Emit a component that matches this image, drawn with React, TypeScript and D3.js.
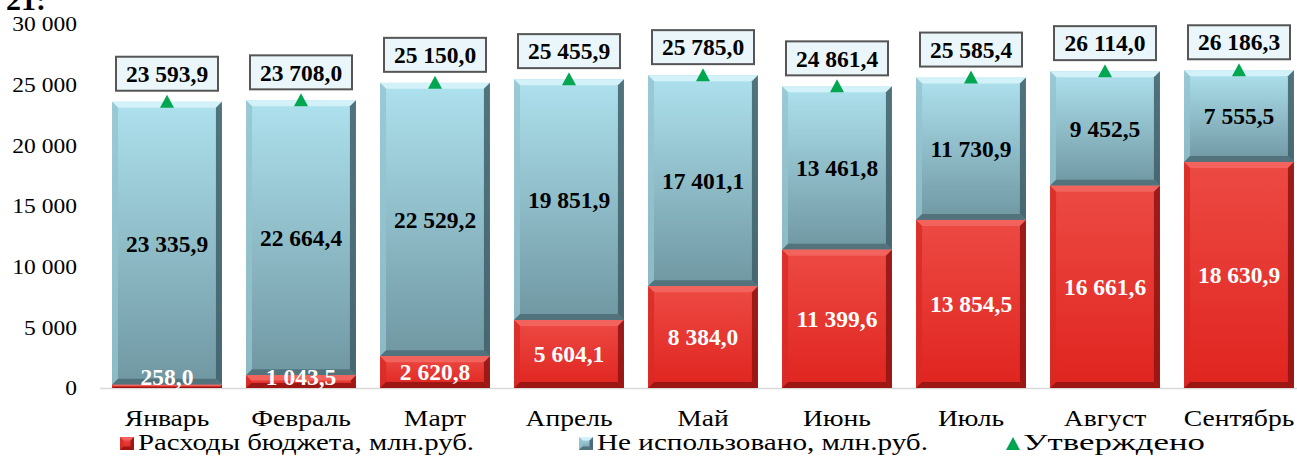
import React from "react";
import * as d3 from "d3";

const months = ["Январь", "Февраль", "Март", "Апрель", "Май", "Июнь", "Июль", "Август", "Сентябрь"];
const spent = [258.0, 1043.5, 2620.8, 5604.1, 8384.0, 11399.6, 13854.5, 16661.6, 18630.9];
const unused = [23335.9, 22664.4, 22529.2, 19851.9, 17401.1, 13461.8, 11730.9, 9452.5, 7555.5];
const approved = [23593.9, 23708.0, 25150.0, 25455.9, 25785.0, 24861.4, 25585.4, 26114.0, 26186.3];
const yTicks = [0, 5000, 10000, 15000, 20000, 25000, 30000];
const legendLabels = ["Расходы бюджета, млн.руб.", "Не использовано, млн.руб.", "Утверждено"];

const W = 1297, H = 463;
const FONT = "Liberation Serif, DejaVu Serif, serif";

const fmt = (v: number) => {
  const s = d3.format(",.1f")(v);
  return s.replace(/,/g, " ").replace(".", ",");
};
const fmtInt = (v: number) => d3.format(",")(v).replace(/,/g, " ");

function Bevel({ x, y, w, h, kind }: { x: number; y: number; w: number; h: number; kind: "red" | "blue" }) {
  if (h <= 0) return null;
  const b = Math.min(6, h / 2.5, w / 4);
  const c = kind === "red"
    ? { fill: "url(#gRed)", top: "#f2635d", left: "#d82a26", right: "#8e1412", bottom: "#951513" }
    : { fill: "url(#gBlue)", top: "#d2f1f8", left: "#93c3ce", right: "#3f5f68", bottom: "#4f6f78" };
  const x2 = x + w, y2 = y + h;
  return (
    <g>
      <rect x={x} y={y} width={w} height={h} fill={c.fill} />
      <polygon points={`${x},${y} ${x2},${y} ${x2 - b},${y + b} ${x + b},${y + b}`} fill={c.top} />
      <polygon points={`${x},${y} ${x + b},${y + b} ${x + b},${y2 - b} ${x},${y2}`} fill={c.left} opacity={0.8} />
      <polygon points={`${x2},${y} ${x2},${y2} ${x2 - b},${y2 - b} ${x2 - b},${y + b}`} fill={c.right} opacity={0.85} />
      <polygon points={`${x},${y2} ${x + b},${y2 - b} ${x2 - b},${y2 - b} ${x2},${y2}`} fill={c.bottom} opacity={0.9} />
    </g>
  );
}

export default function App() {
  const y = d3.scaleLinear().domain([0, 30000]).range([388, 24]);
  const x = d3.scaleBand<string>().domain(months).range([100, 1306]).paddingInner(0.18).paddingOuter(0.09);
  const bw = x.bandwidth();

  return (
    <svg width={W} height={H} style={{ position: "absolute", left: 0, top: 0, fontFamily: FONT }}>
      <defs>
        <linearGradient id="gBlue" x1="0" y1="0" x2="0" y2="1">
          <stop offset="0%" stopColor="#aee2ee" />
          <stop offset="100%" stopColor="#6f97a2" />
        </linearGradient>
        <linearGradient id="gRed" x1="0" y1="0" x2="0" y2="1">
          <stop offset="0%" stopColor="#ed4a44" />
          <stop offset="100%" stopColor="#e0241f" />
        </linearGradient>
      </defs>
      <rect width={W} height={H} fill="#ffffff" />
      <text x={6} y={10} fontSize={30} fontWeight="bold" fill="#000">21:</text>

      {yTicks.map((t) => (
        <g key={t} transform={`translate(77,${y(t)}) scale(1.12,1)`}>
          <text x={0} y={0} dy="0.35em" textAnchor="end" fontSize={21} fill="#000">
            {fmtInt(t)}
          </text>
        </g>
      ))}
      <line x1={100} x2={1297} y1={y(0) + 0.5} y2={y(0) + 0.5} stroke="#d9d9d9" strokeWidth={1.5} />

      {months.map((m, i) => {
        const x0 = x(m)!;
        const cx = x0 + bw / 2;
        const ySpentTop = y(spent[i]);
        const yUnusedTop = y(spent[i] + unused[i]);
        const yA = y(approved[i]);
        const redMid = Math.min((ySpentTop + y(0)) / 2, 377);
        const blueMid = (yUnusedTop + ySpentTop) / 2;
        const boxW = 102, boxH = 34;
        const boxBottom = yA - 11;
        return (
          <g key={m}>
            <Bevel x={x0} y={yUnusedTop} w={bw} h={ySpentTop - yUnusedTop} kind="blue" />
            <Bevel x={x0} y={ySpentTop} w={bw} h={y(0) - ySpentTop} kind="red" />
            <text x={cx} y={blueMid} dy="0.35em" textAnchor="middle" fontSize={23.5} fontWeight="bold" fill="#000">
              {fmt(unused[i])}
            </text>
            <text x={cx} y={redMid} dy="0.35em" textAnchor="middle" fontSize={23.5} fontWeight="bold" fill="#fff">
              {fmt(spent[i])}
            </text>
            <path d={`M${cx - 7},${yA + 6} L${cx + 7},${yA + 6} L${cx},${yA - 7} Z`} fill="#00a650" />
            <rect x={cx - boxW / 2} y={boxBottom - boxH} width={boxW} height={boxH} fill="#eaf6fa" stroke="#555" strokeWidth={2} />
            <text x={cx} y={boxBottom - boxH / 2} dy="0.35em" textAnchor="middle" fontSize={23.5} fontWeight="bold" fill="#000">
              {fmt(approved[i])}
            </text>
            <g transform={`translate(${cx},418) scale(1.15,1)`}>
              <text x={0} y={0} dy="0.35em" textAnchor="middle" fontSize={24} fill="#000">{m}</text>
            </g>
          </g>
        );
      })}

      <g>
        <Bevel x={120} y={437} w={14} h={13} kind="red" />
        <text x={138} y={442} dy="0.35em" fontSize={24} fill="#000" textLength={336} lengthAdjust="spacingAndGlyphs">{legendLabels[0]}</text>
        <Bevel x={579} y={437} w={14} h={13} kind="blue" />
        <text x={597} y={442} dy="0.35em" fontSize={24} fill="#000" textLength={331} lengthAdjust="spacingAndGlyphs">{legendLabels[1]}</text>
        <path d="M1006,450 L1020,450 L1013,437 Z" fill="#00a650" />
        <text x={1023} y={442} dy="0.35em" fontSize={24} fill="#000" textLength={182} lengthAdjust="spacingAndGlyphs">{legendLabels[2]}</text>
      </g>
    </svg>
  );
}
